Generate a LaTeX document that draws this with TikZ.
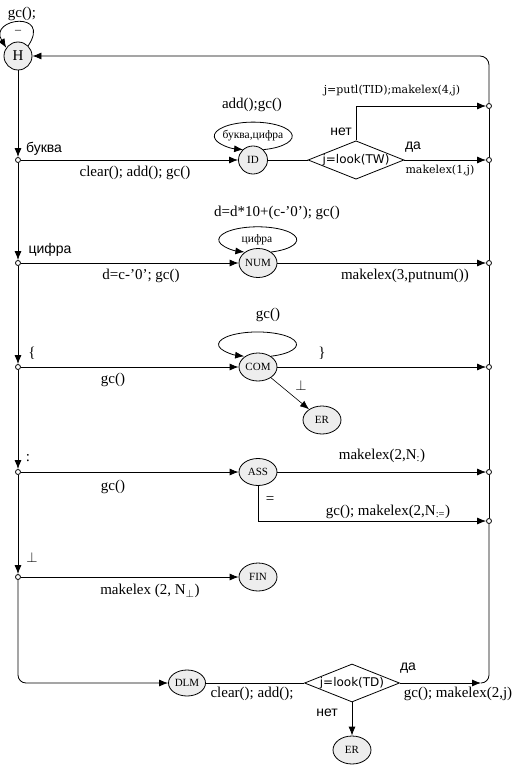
\documentclass[tikz,border=0pt]{standalone}
\usepackage{fontspec}
\setmainfont{Liberation Serif}
\newfontfamily\sansf{Liberation Sans}
\newfontfamily\dvs{DejaVu Sans}
\newfontfamily\dvserif{DejaVu Serif}
\usetikzlibrary{arrows.meta,shapes.geometric,calc}
\begin{document}
\begin{tikzpicture}[x=1pt,y=-1pt,
  lab/.style={inner sep=0pt, font=\fontsize{15}{15}\selectfont},
  slab/.style={inner sep=0pt, font=\sansf\fontsize{14}{14}\selectfont},
  dlab/.style={inner sep=0pt, font=\dvserif\fontsize{11}{11}\selectfont},
  llab/.style={inner sep=0pt, font=\fontsize{11.5}{11.5}\selectfont},
  state/.style={ellipse, draw, fill=black!7, minimum width=38pt, minimum height=28pt, inner sep=0pt, font=\fontsize{11}{11}\selectfont},
  dot/.style={circle, draw, fill=white, minimum size=5pt, inner sep=0pt},
  dia/.style={diamond, draw, aspect=2.5, minimum width=95pt, minimum height=38pt, inner sep=0pt, font=\dvs\fontsize{12}{12}\selectfont},
  arr/.style={-{Latex[length=9pt,width=7pt]}},
  line width=0.8pt]
\useasboundingbox (0,0) rectangle (521,765);

% states
\node[state, minimum width=28pt, font=\fontsize{15}{15}\selectfont] (H) at (18,56) {H};
\node[state, minimum width=29pt, minimum height=28pt] (ID) at (253,160) {ID};
\node[dia] (TW) at (356,160) {j=look(TW)};
\node[state, minimum height=29pt] (NUM) at (258,263) {NUM};
\node[state] (COM) at (258,367) {COM};
\node[state] (ER1) at (322,420) {ER};
\node[state, minimum height=27pt] (ASS) at (258,472) {ASS};
\node[state] (FIN) at (258,577) {FIN};
\node[state, minimum width=37pt, minimum height=26pt] (DLM) at (187,683) {DLM};
\node[dia] (TD) at (352,683) {j=look(TD)};
\node[state] (ER2) at (352,750) {ER};

% dots
\node[dot] (L1) at (18,160) {};
\node[dot] (L2) at (18,263) {};
\node[dot] (L3) at (18,367) {};
\node[dot] (L4) at (18,472) {};
\node[dot] (L5) at (18,577) {};
\node[dot] (R1) at (489,106) {};
\node[dot] (R2) at (489,160) {};
\node[dot] (R3) at (489,263) {};
\node[dot] (R4) at (489,367) {};
\node[dot] (R5) at (489,472) {};
\node[dot] (R6) at (489,521) {};
\coordinate (BRa) at (481,683);

% left spine
\draw[arr] (H) -- (L1);
\draw[arr] (L1) -- (L2);
\draw[arr] (L2) -- (L3);
\draw[arr] (L3) -- (L4);
\draw[arr] (L4) -- (L5);
\draw[arr, rounded corners=8pt] (L5) |- (DLM);

% right spine
\draw[rounded corners=8pt] (BRa) -| (R6);
\draw (R6) -- (R5);
\draw (R5) -- (R4);
\draw (R4) -- (R3);
\draw (R3) -- (R2);
\draw (R2) -- (R1);
\draw[arr, rounded corners=9pt] (R1) |- (H);

% rows
\draw[arr] (L1) -- (ID);
\draw (ID) -- (TW);
\draw[arr] (TW.east) -- (R2);
\draw[arr] (TW.north) |- (R1);

\draw[arr] (L2) -- (NUM);
\draw[arr] (NUM) -- (R3);

\draw[arr] (L3) -- (COM);
\draw[arr] (COM) -- (R4);
\draw[arr, line width=0.6pt] (COM) -- (ER1);

\draw[arr] (L4) -- (ASS);
\draw[arr] (ASS) -- (R5);
\draw[arr] (ASS.south) |- (R6);

\draw[arr] (L5) -- (FIN);

\draw (DLM) -- (TD);
\draw[arr] (TD.east) -- (BRa);
\draw[arr] (TD.south) -- (ER2);

% loops
\draw[arr] (H.45) .. controls (52,10) and (-12,18) .. (H.145);
\draw[arr] (ID.45) arc[start angle=-75, end angle=255, x radius=39pt, y radius=14pt];
\draw[arr] (NUM.40) arc[start angle=-70, end angle=250, x radius=39pt, y radius=13pt];
\draw[arr] (COM.40) arc[start angle=-70, end angle=250, x radius=39pt, y radius=12.5pt];

% labels
\node[lab] (t0) at (22,14) {gc();};
\node[inner sep=0pt, font=\fontsize{12}{12}\selectfont] (t1) at (18,32) {–};

\node[slab] (t2) at (44,149) {буква};
\node[lab] (t3) at (135,173) {clear(); add(); gc()};
\node[lab] (t4) at (252,105) {add();gc()};
\node[llab] (t5) at (253,136) {буква,цифра};
\node[slab] (t6) at (341,132) {нет};
\node[dlab] (t7) at (392,91) {j=putl(TID);makelex(4,j)};
\node[slab] (t8) at (413,147) {да};
\node[dlab] (t9) at (440,171) {makelex(1,j)};

\node[slab] (t10) at (50,250) {цифра};
\node[lab] (t11) at (141,276) {d=c-’0’; gc()};
\node[lab] (t12) at (277,213) {d=d*10+(c-’0’); gc()};
\node[llab] (t13) at (257,240) {цифра};
\node[lab] (t14) at (405,276) {makelex(3,putnum())};

\node[lab] (t15) at (32,353) {\{};
\node[lab] (t16) at (113,380) {gc()};
\node[lab] (t17) at (268,315) {gc()};
\node[lab] (t18) at (322,353) {\}};
\node[lab] (t19) at (301,385) {$\perp$};

\node[lab] (t20) at (28,458) {:};
\node[lab] (t21) at (113,487) {gc()};
\node[lab] (t22) at (382,456) {makelex(2,N\textsubscript{:})};
\node[lab] (t23) at (270,500) {=};
\node[lab] (t24) at (388,512) {gc(); makelex(2,N\textsubscript{:=})};

\node[lab] (t25) at (32,557) {$\perp$};
\node[lab] (t26) at (150,591) {makelex (2, N\textsubscript{$\perp$})};

\node[lab] (t27) at (252,694) {clear(); add();};
\node[slab] (t28) at (408,668) {да};
\node[lab] (t29) at (458,694) {gc(); makelex(2,j)};
\node[slab] (t30) at (327,713) {нет};
\end{tikzpicture}
\end{document}
